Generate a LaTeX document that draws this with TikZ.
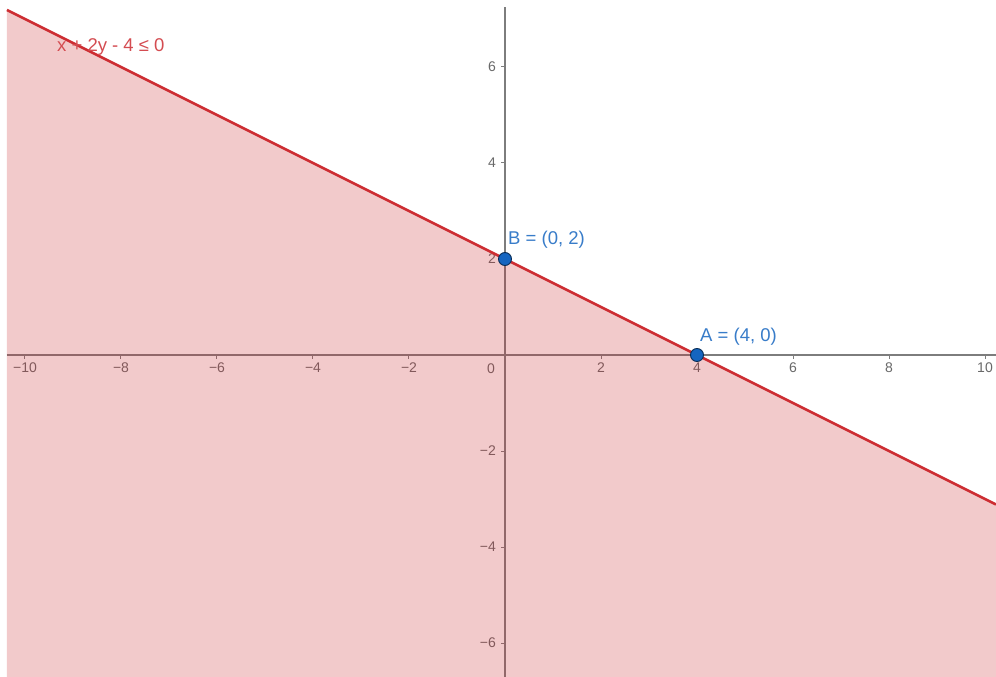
\documentclass[tikz,border=0pt]{standalone}
\usepackage{fontspec}
\setmainfont{Liberation Sans}
\definecolor{geored}{RGB}{205,45,50}
\definecolor{geoblue}{RGB}{21,101,192}
\definecolor{axisgray}{RGB}{125,125,125}
\definecolor{ticktext}{RGB}{105,105,105}
\begin{document}
\begin{tikzpicture}[x=48pt,y=48pt,
  axisline/.style={draw=axisgray, line width=1.6pt},
  tickmark/.style={draw=axisgray, line width=1pt},
  ticklab/.style={text=ticktext, font=\fontsize{14}{16}\selectfont, inner sep=0pt},
  region/.style={fill=geored, fill opacity=0.25},
  boundary/.style={draw=geored, line width=2.6pt},
  geopt/.style={circle, fill=geoblue, draw=geoblue!45!black, line width=0.9pt, minimum size=13pt, inner sep=0pt},
  ptlab/.style={text=geoblue!85!white, font=\fontsize{18.5}{21}\selectfont, inner sep=0pt, anchor=west},
  ineq/.style={text=geored!85!white, font=\fontsize{18.5}{21}\selectfont, inner sep=0pt, anchor=west}
]
\useasboundingbox (-505pt,-322pt) rectangle (491pt,355pt);
\fill[white] (-505pt,-322pt) rectangle (491pt,355pt);
% axes
\coordinate (xl) at (-498pt,0);
\coordinate (xr) at (491pt,0);
\coordinate (yt) at (0,348pt);
\coordinate (yb) at (0,-322pt);
\draw[axisline] (xl) -- (xr);
\draw[axisline] (yb) -- (yt);
% ticks and labels
\foreach \x/\t in {-10/−10,-8/−8,-6/−6,-4/−4,-2/−2,2/2,4/4,6/6,8/8,10/10}{
  \draw[tickmark] (\x,0) -- ++(0,-4pt);
  \node[ticklab, anchor=north] (tx\x) at (\x,-8pt) {\t};
}
\foreach \y/\t in {-6/−6,-4/−4,-2/−2,2/2,4/4,6/6}{
  \draw[tickmark] (0,\y) -- ++(-4pt,0);
  \node[ticklab, anchor=east] (ty\y) at (-9pt,\y) {\t};
}
\node[ticklab] (origin) at (-14pt,-14pt) {0};
% region x + 2y - 4 <= 0
\coordinate (L) at (-10.375,7.1875);
\coordinate (R) at (10.229,-3.1146);
\coordinate (RB) at (10.229,-6.7083);
\coordinate (LB) at (-10.375,-6.7083);
\fill[region] (L) -- (R) -- (RB) -- (LB) -- cycle;
\draw[boundary] (L) -- (R);
\node[ineq] (lab) at (-448pt,308pt) {x + 2y - 4 ≤ 0};
% points
\node[geopt] (B) at (0,2) {};
\node[geopt] (A) at (4,0) {};
\node[ptlab] (Blab) at (3pt,115pt) {B = (0, 2)};
\node[ptlab] (Alab) at (195pt,18pt) {A = (4, 0)};
\end{tikzpicture}
\end{document}
